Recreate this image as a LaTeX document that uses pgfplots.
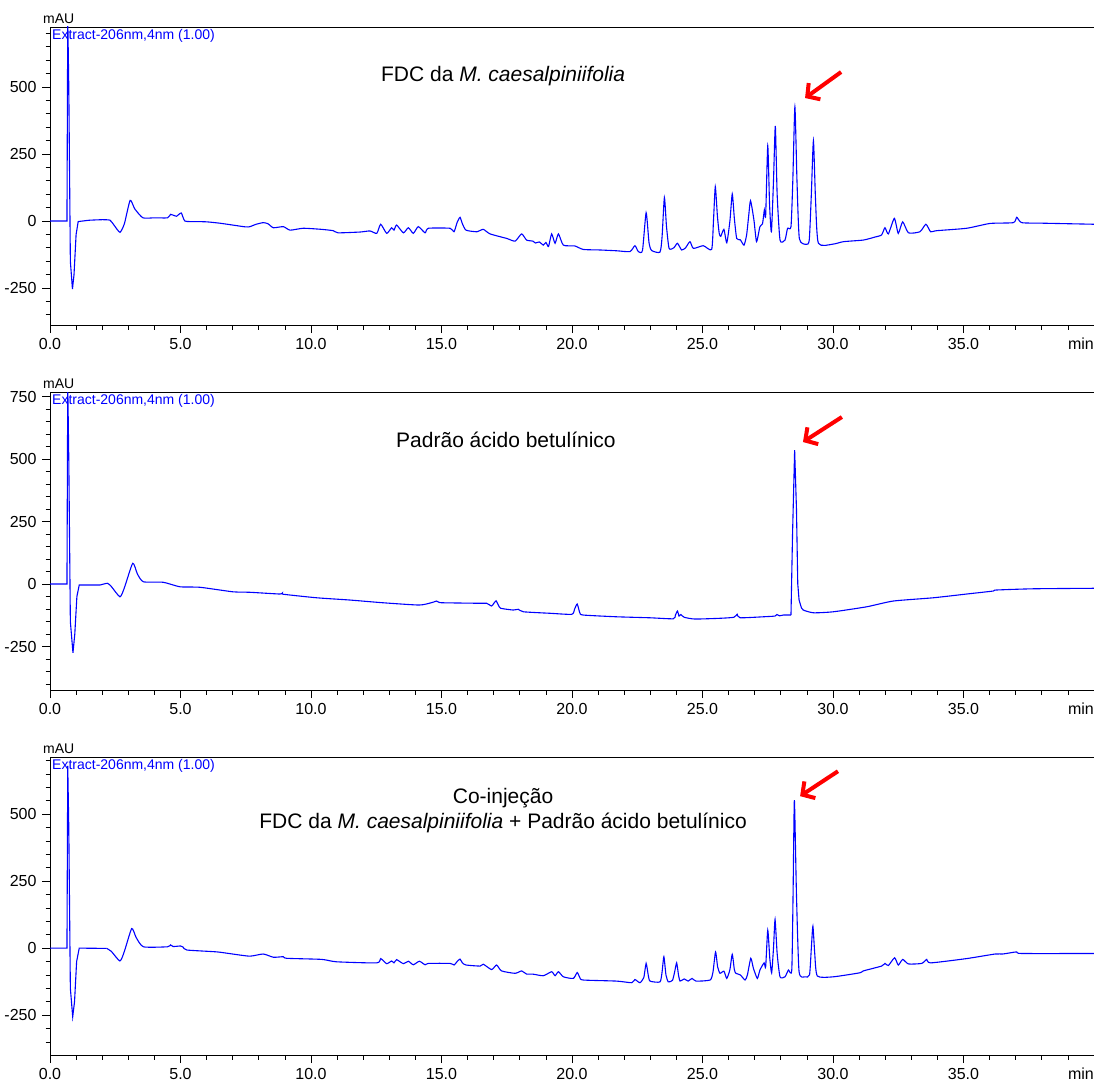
\documentclass[border=0pt]{standalone}
\usepackage{fontspec}
\setmainfont{Liberation Sans}
\usepackage{pgfplots}
\pgfplotsset{compat=1.18}
\usetikzlibrary{arrows.meta}

\definecolor{traceblue}{RGB}{0,0,255}

\tikzset{redarrow/.style={red, line width=4pt, -{Straight Barb[length=9pt,width=20pt]}}}

\pgfplotsset{
  chrom/.style={
    scale only axis,
    width=1044pt, height=298pt,
    xmin=0, xmax=40,
    xtick={0,5,...,35},
    xticklabels={0.0,5.0,10.0,15.0,20.0,25.0,30.0,35.0},
    minor xtick={0,1,...,40},
    minor ytick={-400,-350,...,750},
    xtick pos=bottom, ytick pos=left,
    tick align=outside,
    major tick length=8pt,
    minor tick length=4.5pt,
    tick style={black, line width=0.8pt},
    axis line style={line width=0.8pt},
    ticklabel style={font=\fontsize{16}{18}\selectfont},
    xticklabel style={yshift=-2pt},
    yticklabel style={xshift=-2pt},
    clip mode=individual,
  },
  chromline/.style={traceblue, line width=1.1pt, mark=none},
  chromsmooth/.style={chromline, smooth, tension=0.35},
}

\newcommand{\chromlabels}{%
  \node[anchor=north west, inner sep=0pt, text=traceblue, font=\fontsize{14}{16}\selectfont]
    at ([xshift=2pt,yshift=-2pt]rel axis cs:0,1) {Extract-206nm,4nm (1.00)};
  \node[anchor=south west, inner sep=0pt, font=\fontsize{14}{16}\selectfont]
    at ([xshift=-7pt,yshift=3pt]rel axis cs:0,1) {mAU};
  \node[anchor=north east, inner sep=0pt, font=\fontsize{16}{18}\selectfont]
    at ([yshift=-13pt]rel axis cs:1,0) {min};
}

\begin{document}
\begin{tikzpicture}

% FDC da M. caesalpiniifolia
\begin{axis}[chrom, name=p1, ymin=-388, ymax=724,
    ytick={-250,0,250,500}, yticklabels={-250,0,250,500}]
\addplot[chromline] coordinates {
(0,0) (0.65,0) (0.68,760) (0.72,500) (0.78,-150) (0.86,-254) (0.92,-200)
(1.0,-50) (1.08,-2) (1.5,3)
};
\addplot[chromsmooth] coordinates {
(1.5,3) (2.0,5) (2.3,3) (2.45,-15) (2.68,-42) (2.85,-10)
(3.07,77) (3.25,45) (3.56,12) (4.0,12) (4.5,12) (4.62,25) (4.72,22) (4.85,18)
(5.03,30) (5.17,0) (5.6,-2) (6.0,-3) (6.5,-8) (7.0,-15) (7.5,-22) (7.66,-21)
(7.9,-12) (8.17,-6) (8.35,-10) (8.56,-25) (8.94,-21) (9.2,-34) (9.7,-27) (10.4,-31)
(10.85,-36) (11.04,-44) (11.88,-41) (12.26,-37) (12.52,-46) (12.67,-12) (12.9,-46)
(13.09,-25) (13.18,-34) (13.28,-15) (13.54,-44) (13.73,-25) (13.92,-46) (14.11,-21)
(14.37,-44) (14.5,-27) (15.33,-27) (15.48,-40) (15.6,-5) (15.71,14) (15.8,-10)
(15.94,-34) (16.35,-40) (16.6,-31) (16.86,-48) (17.5,-65) (17.82,-75) (18.07,-48)
(18.26,-71) (18.5,-75) (18.6,-82) (18.75,-78) (18.9,-90) (19.0,-80) (19.1,-95)
(19.22,-48) (19.35,-83) (19.48,-48) (19.67,-90) (20.11,-93) (20.43,-106) (21.07,-108)
(21.71,-111) (22.22,-114) (22.41,-92) (22.54,-114) (22.7,-110) (22.84,31) (22.95,-80)
(23.05,-110) (23.37,-116) (23.45,-60) (23.54,88) (23.62,-20) (23.72,-102) (23.9,-100)
(24.04,-83) (24.2,-108) (24.35,-100) (24.52,-77) (24.65,-102) (25.03,-92) (25.35,-106)
(25.42,0) (25.49,128) (25.57,20) (25.64,-46) (25.7,-57) (25.82,-31) (25.93,-81)
(26.05,0) (26.14,101) (26.22,10) (26.31,-65) (26.45,-70) (26.59,-90) (26.69,-52)
(26.77,20) (26.84,76) (26.97,4) (27.07,-77) (27.2,-21) (27.3,-10) (27.37,41) (27.42,20)
(27.5,281) (27.57,60) (27.64,-40) (27.72,150) (27.79,355) (27.86,100) (27.97,-71)
(28.16,-71) (28.26,-27) (28.39,-21) (28.46,150) (28.54,426) (28.62,150) (28.71,-65)
(28.97,-87) (29.09,-71) (29.17,100) (29.25,300) (29.33,80) (29.44,-83) (30.01,-86)
(30.4,-77) (31.16,-71) (31.6,-60) (31.86,-52) (31.99,-25) (32.12,-48) (32.35,10)
(32.5,-46) (32.67,-3) (32.89,-44) (33.33,-40) (33.56,-12) (33.74,-40) (33.97,-36)
(35.12,-27) (36.02,-9) (36.91,-6) (37.04,14) (37.23,-6) (38,-8) (39,-10) (40,-12)
};
\chromlabels
\node[font=\fontsize{21}{24}\selectfont] at (axis cs:17.36,541) {FDC da \textit{M. caesalpiniifolia}};
\draw[redarrow] (axis cs:30.31,556) -- (axis cs:28.93,459);
\end{axis}

% Padrao acido betulinico
\begin{axis}[chrom, at={(0,-365pt)}, ymin=-424, ymax=768,
    ytick={-250,0,250,500,750}, yticklabels={-250,0,250,500,750}]
\addplot[chromline] coordinates {
(0,0) (0.65,0) (0.68,800) (0.72,500) (0.78,-150) (0.88,-275) (0.95,-200)
(1.03,-50) (1.12,-4) (1.92,-4)
};
\addplot[chromsmooth] coordinates {
(1.92,-4) (2.2,3) (2.35,-10) (2.68,-51) (2.85,-15) (3.17,83)
(3.35,40) (3.58,9) (4.34,7) (4.98,-11) (5.75,-13) (7.0,-31) (7.66,-33) (8.81,-40)
(8.9,-36) (8.95,-41) (10.22,-55) (11.49,-64) (12.77,-75) (14.14,-84) (14.6,-75)
(14.7,-72) (14.81,-68) (14.9,-73) (15.07,-75) (16.48,-77) (16.73,-77) (16.92,-88)
(17.0,-78) (17.09,-67) (17.18,-85) (17.27,-97) (17.75,-104) (17.94,-101) (18.14,-111)
(19.16,-117) (19.99,-121) (20.1,-100) (20.2,-80) (20.3,-115) (20.43,-124) (21.71,-131)
(22.99,-135) (23.88,-139) (23.96,-125) (24.04,-108) (24.1,-128) (24.17,-122) (24.3,-133)
(24.71,-140) (25.67,-137) (26.2,-133) (26.33,-121) (26.44,-135) (27.5,-130) (27.78,-128)
(27.85,-122) (27.95,-127) (28.1,-124) (28.39,-124)
};
\addplot[chromline] coordinates {
(28.39,-124) (28.45,200) (28.53,536) (28.6,300) (28.65,0) (28.7,-64) (28.78,-92)
};
\addplot[chromsmooth] coordinates {
(28.78,-92) (28.86,-104) (29.25,-115) (30.01,-111) (31.29,-91) (32.31,-68)
(33.84,-55) (35.12,-40) (36.14,-28) (36.25,-24) (37.68,-19) (40,-17)
};
\chromlabels
\node[font=\fontsize{21}{24}\selectfont] at (axis cs:17.47,576) {Padrão ácido betulínico};
\draw[redarrow] (axis cs:30.34,668) -- (axis cs:28.85,568);
\end{axis}

% Co-injecao
\begin{axis}[chrom, name=p3, at={(0,-730pt)}, ymin=-399, ymax=713,
    ytick={-250,0,250,500}, yticklabels={-250,0,250,500}]
\addplot[chromline] coordinates {
(0,0) (0.65,0) (0.68,680) (0.72,450) (0.78,-150) (0.87,-256) (0.94,-200)
(1.02,-50) (1.12,0) (2.17,-1)
};
\addplot[chromsmooth] coordinates {
(2.17,-1) (2.35,-12) (2.68,-48) (2.85,-12) (3.13,73) (3.3,40)
(3.58,5) (4.5,5) (4.62,12) (4.72,6) (5.0,8) (5.1,4) (5.24,-7) (6.39,-14) (7.0,-22)
(7.66,-30) (8.17,-22) (8.56,-34) (8.94,-32) (9.07,-38) (10.41,-42) (10.98,-51)
(12.52,-55) (12.67,-39) (12.9,-58) (13.09,-48) (13.18,-55) (13.28,-43) (13.54,-58)
(13.73,-49) (13.92,-62) (14.15,-49) (14.37,-62) (14.5,-57) (15.33,-57) (15.48,-63)
(15.6,-50) (15.71,-41) (15.8,-55) (15.94,-63) (16.48,-67) (16.6,-60) (16.92,-80)
(17.11,-63) (17.3,-85) (17.82,-94) (18.07,-85) (18.26,-97) (18.5,-97) (18.9,-103)
(19.22,-88) (19.35,-103) (19.48,-88) (19.67,-107) (20.05,-113) (20.2,-91) (20.3,-110)
(20.43,-119) (21.71,-123) (22.29,-129) (22.41,-117) (22.6,-129) (22.75,-110) (22.84,-57)
(22.92,-100) (22.99,-123) (23.37,-126) (23.45,-90) (23.52,-32) (23.6,-100) (23.69,-126)
(23.85,-120) (23.93,-90) (24.01,-55) (24.08,-100) (24.14,-123) (24.3,-115) (24.45,-123)
(24.6,-113) (24.75,-123) (25.29,-119) (25.4,-90) (25.5,-14) (25.58,-70) (25.67,-94)
(25.82,-86) (25.93,-113) (26.05,-80) (26.14,-23) (26.22,-80) (26.28,-94) (26.45,-100)
(26.63,-119) (26.72,-100) (26.85,-38) (26.95,-75) (27.1,-113) (27.2,-82) (27.36,-55)
(27.42,-70) (27.5,67) (27.58,-40) (27.65,-92) (27.72,0) (27.78,107) (27.86,-20)
(27.97,-107) (28.16,-107) (28.29,-82) (28.42,-82) (28.47,200) (28.52,552) (28.6,200)
(28.7,-88) (28.93,-107) (29.1,-100) (29.17,0) (29.23,82) (29.3,-20) (29.4,-104)
(30.01,-107) (31.03,-92) (31.16,-85) (31.86,-67) (31.99,-57) (32.12,-65) (32.36,-36)
(32.5,-63) (32.67,-42) (32.89,-59) (33.4,-57) (33.59,-42) (33.74,-55) (35.12,-39)
(36.21,-22) (36.5,-22) (37.04,-14) (37.23,-20) (40,-20)
};
\chromlabels
\node[font=\fontsize{21}{25}\selectfont, align=center] at (axis cs:17.36,515)
  {Co-injeção\\FDC da \textit{M. caesalpiniifolia} + Padrão ácido betulínico};
\draw[redarrow] (axis cs:30.19,660) -- (axis cs:28.74,567);
\end{axis}

\pgfresetboundingbox
\path ([xshift=-50pt,yshift=27pt]p1.north west) rectangle ([yshift=-30pt]p3.south east);
\end{tikzpicture}
\end{document}
